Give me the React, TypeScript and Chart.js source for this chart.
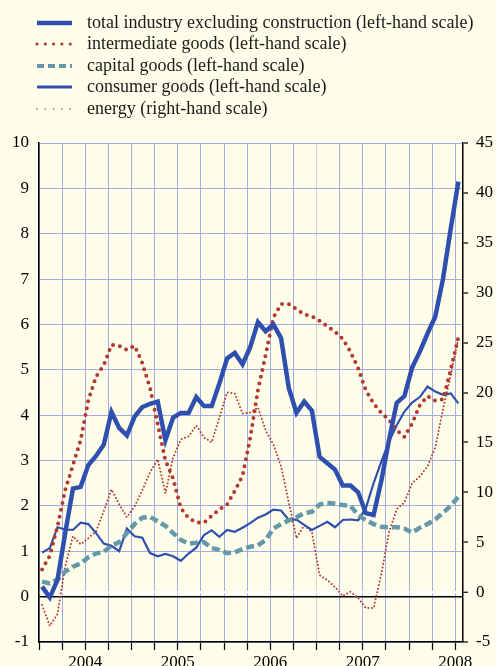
import React, { useEffect, useRef } from "react";
import { Chart, registerables } from "chart.js";

Chart.register(...registerables);

// Monthly observations, Jan 2004 – Jul 2008
const months = [
  "Jan 04", "Feb 04", "Mar 04", "Apr 04", "May 04", "Jun 04", "Jul 04", "Aug 04", "Sep 04", "Oct 04", "Nov 04", "Dec 04",
  "Jan 05", "Feb 05", "Mar 05", "Apr 05", "May 05", "Jun 05", "Jul 05", "Aug 05", "Sep 05", "Oct 05", "Nov 05", "Dec 05",
  "Jan 06", "Feb 06", "Mar 06", "Apr 06", "May 06", "Jun 06", "Jul 06", "Aug 06", "Sep 06", "Oct 06", "Nov 06", "Dec 06",
  "Jan 07", "Feb 07", "Mar 07", "Apr 07", "May 07", "Jun 07", "Jul 07", "Aug 07", "Sep 07", "Oct 07", "Nov 07", "Dec 07",
  "Jan 08", "Feb 08", "Mar 08", "Apr 08", "May 08", "Jun 08", "Jul 08",
];

const yearLabels = ["2004", "2005", "2006", "2007", "2008"];

const totalIndustry = [
  0.22, -0.02, 0.37, 1.4, 2.38, 2.42, 2.9, 3.1, 3.35, 4.07, 3.72, 3.55,
  3.97, 4.18, 4.25, 4.3, 3.45, 3.95, 4.05, 4.05, 4.4, 4.2, 4.2, 4.7,
  5.25, 5.37, 5.12, 5.5, 6.05, 5.85, 6.0, 5.7, 4.6, 4.05, 4.3, 4.1,
  3.08, 2.94, 2.8, 2.45, 2.45, 2.3, 1.84, 1.8, 2.55, 3.45, 4.27, 4.42,
  5.05, 5.4, 5.8, 6.17, 7.0, 8.1, 9.15,
];

const intermediateGoods = [
  0.6, 0.9, 1.55, 2.35, 2.9, 3.45, 4.33, 4.85, 5.1, 5.55, 5.53, 5.44,
  5.53, 5.15, 4.6, 3.8, 3.0, 2.6, 1.95, 1.73, 1.64, 1.63, 1.78, 1.92,
  2.03, 2.33, 2.66, 3.5, 4.55, 5.33, 6.15, 6.45, 6.45, 6.34, 6.22, 6.18,
  6.08, 5.96, 5.84, 5.68, 5.4, 5.03, 4.55, 4.26, 4.05, 3.9, 3.67, 3.52,
  3.82, 4.22, 4.42, 4.32, 4.35, 5.0, 5.72,
];

const capitalGoods = [
  0.33, 0.29, 0.38, 0.55, 0.66, 0.73, 0.87, 0.95, 0.99, 1.12, 1.2, 1.4,
  1.6, 1.74, 1.76, 1.66, 1.56, 1.4, 1.25, 1.17, 1.19, 1.2, 1.07, 1.03,
  0.96, 0.98, 1.05, 1.1, 1.13, 1.25, 1.5, 1.6, 1.68, 1.75, 1.84, 1.87,
  2.03, 2.07, 2.05, 2.02, 2.0, 1.8, 1.68, 1.6, 1.54, 1.53, 1.53, 1.5,
  1.41, 1.52, 1.6, 1.7, 1.85, 2.0, 2.2,
];

const consumerGoods = [
  0.97, 1.07, 1.53, 1.48, 1.47, 1.63, 1.6, 1.4, 1.17, 1.12, 1.0, 1.5,
  1.33, 1.3, 0.96, 0.89, 0.94, 0.89, 0.79, 0.95, 1.08, 1.36, 1.46, 1.32,
  1.47, 1.43, 1.52, 1.62, 1.74, 1.81, 1.92, 1.9, 1.69, 1.7, 1.58, 1.47,
  1.56, 1.65, 1.53, 1.69, 1.7, 1.68, 1.95, 2.5, 2.97, 3.42, 3.78, 4.08,
  4.28, 4.4, 4.63, 4.52, 4.45, 4.48, 4.26,
];

const energy = [
  -1.3, -3.4, -2.2, 2.6, 5.6, 4.8, 5.4, 6.1, 8.1, 10.3, 8.8, 7.5,
  8.6, 10.2, 12.0, 13.3, 9.9, 13.5, 15.3, 15.6, 16.7, 15.5, 15.0, 17.5,
  20.0, 19.9, 17.9, 18.0, 18.5, 16.2, 14.8, 12.6, 9.0, 5.4, 6.7, 6.0,
  1.7, 1.2, 0.5, -0.4, 0.04, -0.6, -1.6, -1.6, 1.8, 6.0, 8.3, 9.0,
  10.9, 11.6, 12.6, 14.5, 18.3, 21.7, 25.5,
];

const legendLabels = [
  "total industry excluding construction (left-hand scale)",
  "intermediate goods (left-hand scale)",
  "capital goods (left-hand scale)",
  "consumer goods (left-hand scale)",
  "energy (right-hand scale)",
];

const BG = "#fffeea";
const GRID = "#a3aae6";
const BLUE = "#2f4fae";
const RED = "#b3382e";
const TEAL = "#6598a8";
const FONT = '"Liberation Serif", "Times New Roman", serif';

const toPoints = (vals: number[]) => vals.map((v, i) => ({ x: i + 0.4, y: v, label: months[i] }));

type LegendStyle = { color: string; width: number; dash?: string; cap?: "round" | "butt" };
const legendStyles: LegendStyle[] = [
  { color: BLUE, width: 4.5 },
  { color: RED, width: 3.2, dash: "0 8.3", cap: "round" },
  { color: TEAL, width: 4, dash: "7 4" },
  { color: BLUE, width: 3 },
  { color: RED, width: 1.6, dash: "0 8.3", cap: "round" },
];

export default function App() {
  const canvasRef = useRef<HTMLCanvasElement | null>(null);

  useEffect(() => {
    if (!canvasRef.current) return;
    const font = { family: FONT, size: 17 };
    const chart = new Chart(canvasRef.current, {
      type: "line",
      data: {
        datasets: [
          {
            label: legendLabels[0],
            data: toPoints(totalIndustry),
            borderColor: BLUE,
            borderWidth: 4.5,
            yAxisID: "y",
          },
          {
            label: legendLabels[1],
            data: toPoints(intermediateGoods),
            borderColor: RED,
            borderWidth: 4,
            borderDash: [0, 7],
            borderCapStyle: "round",
            yAxisID: "y",
          },
          {
            label: legendLabels[2],
            data: toPoints(capitalGoods),
            borderColor: TEAL,
            borderWidth: 4.5,
            borderDash: [8, 4],
            yAxisID: "y",
          },
          {
            label: legendLabels[3],
            data: toPoints(consumerGoods),
            borderColor: BLUE,
            borderWidth: 2.2,
            yAxisID: "y",
          },
          {
            label: legendLabels[4],
            data: toPoints(energy),
            borderColor: RED,
            borderWidth: 2,
            borderDash: [0, 3.6],
            borderCapStyle: "round",
            yAxisID: "y1",
          },
        ],
      },
      options: {
        responsive: false,
        animation: false,
        layout: { padding: { top: 143, left: 0, right: 0, bottom: 0 } },
        plugins: { legend: { display: false }, tooltip: { enabled: false } },
        elements: { point: { radius: 0 }, line: { tension: 0, fill: false } },
        scales: {
          x: {
            type: "linear",
            min: 0,
            max: 55,
            ticks: {
              stepSize: 3,
              includeBounds: false,
              autoSkip: false,
              maxRotation: 0,
              padding: 2,
              color: "#000",
              font,
              callback: (v: any) => {
                const n = Number(v);
                if ((n - 6) % 12 === 0) return yearLabels[(n - 6) / 12] ?? "";
                return "";
              },
            },
            grid: {
              color: (ctx: any) => (ctx.tick && ctx.tick.value === 36 ? "#d5d5d5" : GRID),
              lineWidth: 1,
              tickLength: 8,
              tickColor: "#000",
              tickWidth: 1.2,
            },
            border: { display: true, color: "#000", width: 1.5 },
            afterFit: (s: any) => {
              s.height = 24;
            },
          },
          y: {
            position: "left",
            min: -1,
            max: 10,
            ticks: { stepSize: 1, padding: 10, color: "#000", font },
            grid: {
              color: (ctx: any) => (ctx.tick && ctx.tick.value === 0 ? "#000" : GRID),
              lineWidth: (ctx: any) => (ctx.tick && ctx.tick.value === 0 ? 1.6 : 1),
              drawTicks: false,
            },
            border: { display: true, color: "#000", width: 1.5 },
            afterFit: (s: any) => {
              s.width = 39;
            },
          },
          y1: {
            position: "right",
            min: -5,
            max: 45,
            ticks: { stepSize: 5, padding: 8, color: "#000", font },
            grid: {
              color: (ctx: any) => (ctx.tick && ctx.tick.value === 0 ? "#ffffff" : "rgba(0,0,0,0)"),
              lineWidth: (ctx: any) => (ctx.tick && ctx.tick.value === 0 ? 2.5 : 0),
              tickColor: "#000",
              tickWidth: 1.2,
              tickLength: 5,
              drawOnChartArea: true,
            },
            border: { display: true, color: "#000", width: 1.5 },
            afterFit: (s: any) => {
              s.width = 33;
            },
          },
        },
      } as any,
    });
    return () => chart.destroy();
  }, []);

  return (
    <div style={{ position: "relative", width: 496, height: 666, background: BG, overflow: "hidden" }}>
      <style>{`html,body{margin:0;padding:0;background:${BG};}`}</style>
      <canvas ref={canvasRef} width={496} height={666} style={{ position: "absolute", left: 0, top: 0, display: "block" }} />
      <div style={{ position: "absolute", left: 0, top: 12, fontFamily: FONT, fontSize: 18, color: "#1a1a1a" }}>
        {legendLabels.map((label, i) => {
          const st = legendStyles[i];
          return (
            <div key={label} style={{ position: "relative", height: 21.4 }}>
              <svg width={40} height={10} style={{ position: "absolute", left: 35, top: 6 }}>
                <line
                  x1={2}
                  y1={5}
                  x2={37}
                  y2={5}
                  stroke={st.color}
                  strokeWidth={st.width}
                  strokeDasharray={st.dash}
                  strokeLinecap={st.cap ?? "butt"}
                />
              </svg>
              <span style={{ position: "absolute", left: 87, whiteSpace: "nowrap", lineHeight: "21.4px", top: 0 }}>{label}</span>
            </div>
          );
        })}
      </div>
    </div>
  );
}
